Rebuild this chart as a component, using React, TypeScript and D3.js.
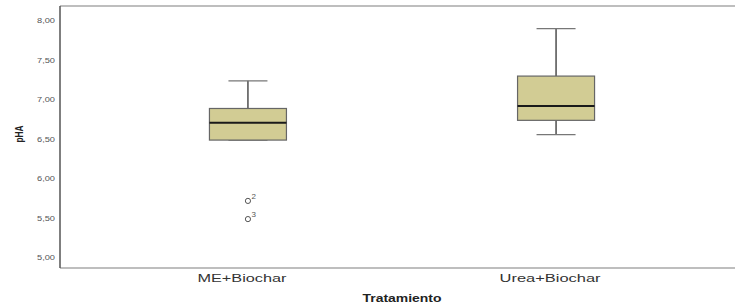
import {useEffect, useRef} from "react";
import * as d3 from "d3";

const categories = ["ME+Biochar", "Urea+Biochar"];
const whiskerLow = [6.48, 6.55];
const q1 = [6.48, 6.73];
const median = [6.70, 6.91];
const q3 = [6.88, 7.29];
const whiskerHigh = [7.23, 7.89];
const outliers = [
  { cat: "ME+Biochar", value: 5.71, label: "2" },
  { cat: "ME+Biochar", value: 5.48, label: "3" }
];
const yTicks = [5, 5.5, 6, 6.5, 7, 7.5, 8];

const W = 735;
const H = 306;
const FONT = "Liberation Sans, Arial, sans-serif";

const App = () => {
  const ref = useRef<SVGSVGElement>(null);

  useEffect(() => {
    const svg = d3.select(ref.current);
    svg.selectAll("*").remove();

    const left = 60, right = 744, top = 6, bottom = 268;

    // y : 5 -> 257, 8 -> 20
    const y = d3.scaleLinear().domain([5, 8]).range([257, 20]);
    const x = d3.scalePoint<string>().domain(categories).range([left, right]).padding(0.61);
    const boxW = 77;
    const capW = 39;

    // frame
    svg.append("line").attr("x1", left).attr("x2", W).attr("y1", top).attr("y2", top)
      .attr("stroke", "#a8a8a8").attr("stroke-width", 1.5);
    svg.append("line").attr("x1", left).attr("x2", W).attr("y1", bottom).attr("y2", bottom)
      .attr("stroke", "#a8a8a8").attr("stroke-width", 1.5);
    svg.append("line").attr("x1", left).attr("x2", left).attr("y1", top).attr("y2", bottom)
      .attr("stroke", "#555").attr("stroke-width", 1.5);

    // y tick labels (stretched like the original raster)
    svg.append("g").selectAll("text").data(yTicks).enter().append("text")
      .attr("x", 55).attr("y", (d) => y(d) + 3)
      .attr("text-anchor", "end")
      .attr("font-family", FONT)
      .attr("font-size", 8).attr("fill", "#555")
      .attr("textLength", 18).attr("lengthAdjust", "spacingAndGlyphs")
      .text((d) => d3.format(".2f")(d).replace(".", ","));

    // y label
    svg.append("text")
      .attr("transform", `translate(23,${134}) rotate(-90)`)
      .attr("text-anchor", "middle")
      .attr("font-family", FONT)
      .attr("font-size", 11).attr("font-weight", "bold").attr("fill", "#222")
      .attr("textLength", 17).attr("lengthAdjust", "spacingAndGlyphs")
      .text("pHA");

    // x labels
    const labelW = [89, 101];
    svg.append("g").selectAll("text").data(categories).enter().append("text")
      .attr("x", (d) => (x(d) as number) - 6).attr("y", 282)
      .attr("text-anchor", "middle")
      .attr("font-family", FONT)
      .attr("font-size", 10).attr("fill", "#333")
      .attr("textLength", (d, i) => labelW[i]).attr("lengthAdjust", "spacingAndGlyphs")
      .text((d) => d);

    svg.append("text")
      .attr("x", (left + right) / 2).attr("y", 302)
      .attr("text-anchor", "middle")
      .attr("font-family", FONT)
      .attr("font-size", 10).attr("font-weight", "bold").attr("fill", "#222")
      .attr("textLength", 79).attr("lengthAdjust", "spacingAndGlyphs")
      .text("Tratamiento");

    // boxes
    const g = svg.append("g");
    categories.forEach((c, i) => {
      const cx = x(c) as number;
      // whiskers
      g.append("line").attr("x1", cx).attr("x2", cx).attr("y1", y(whiskerHigh[i])).attr("y2", y(q3[i]))
        .attr("stroke", "#333").attr("stroke-width", 1.3);
      g.append("line").attr("x1", cx).attr("x2", cx).attr("y1", y(whiskerLow[i])).attr("y2", y(q1[i]))
        .attr("stroke", "#333").attr("stroke-width", 1.3);
      g.append("line").attr("x1", cx - capW / 2).attr("x2", cx + capW / 2)
        .attr("y1", y(whiskerHigh[i])).attr("y2", y(whiskerHigh[i]))
        .attr("stroke", "#777").attr("stroke-width", 1.3);
      g.append("line").attr("x1", cx - capW / 2).attr("x2", cx + capW / 2)
        .attr("y1", y(whiskerLow[i])).attr("y2", y(whiskerLow[i]))
        .attr("stroke", "#777").attr("stroke-width", 1.3);
      // box
      g.append("rect")
        .attr("x", cx - boxW / 2).attr("width", boxW)
        .attr("y", y(q3[i])).attr("height", y(q1[i]) - y(q3[i]))
        .attr("fill", "#d2cc94").attr("stroke", "#666").attr("stroke-width", 1.2);
      g.append("line").attr("x1", cx - boxW / 2).attr("x2", cx + boxW / 2)
        .attr("y1", y(median[i])).attr("y2", y(median[i]))
        .attr("stroke", "#1a1a1a").attr("stroke-width", 2);
    });

    // outliers
    const o = svg.append("g").selectAll("g").data(outliers).enter().append("g");
    o.append("circle")
      .attr("cx", (d) => x(d.cat) as number).attr("cy", (d) => y(d.value))
      .attr("r", 2.6).attr("fill", "none").attr("stroke", "#555").attr("stroke-width", 1);
    o.append("text")
      .attr("x", (d) => (x(d.cat) as number) + 3.5).attr("y", (d) => y(d.value) - 2)
      .attr("font-family", FONT)
      .attr("font-size", 8).attr("fill", "#555")
      .text((d) => d.label);
  }, []);

  return <svg ref={ref} width={W} height={H} style={{position: "absolute", left: 0, top: 0, background: "#fff"}} />;
};

export default App;
